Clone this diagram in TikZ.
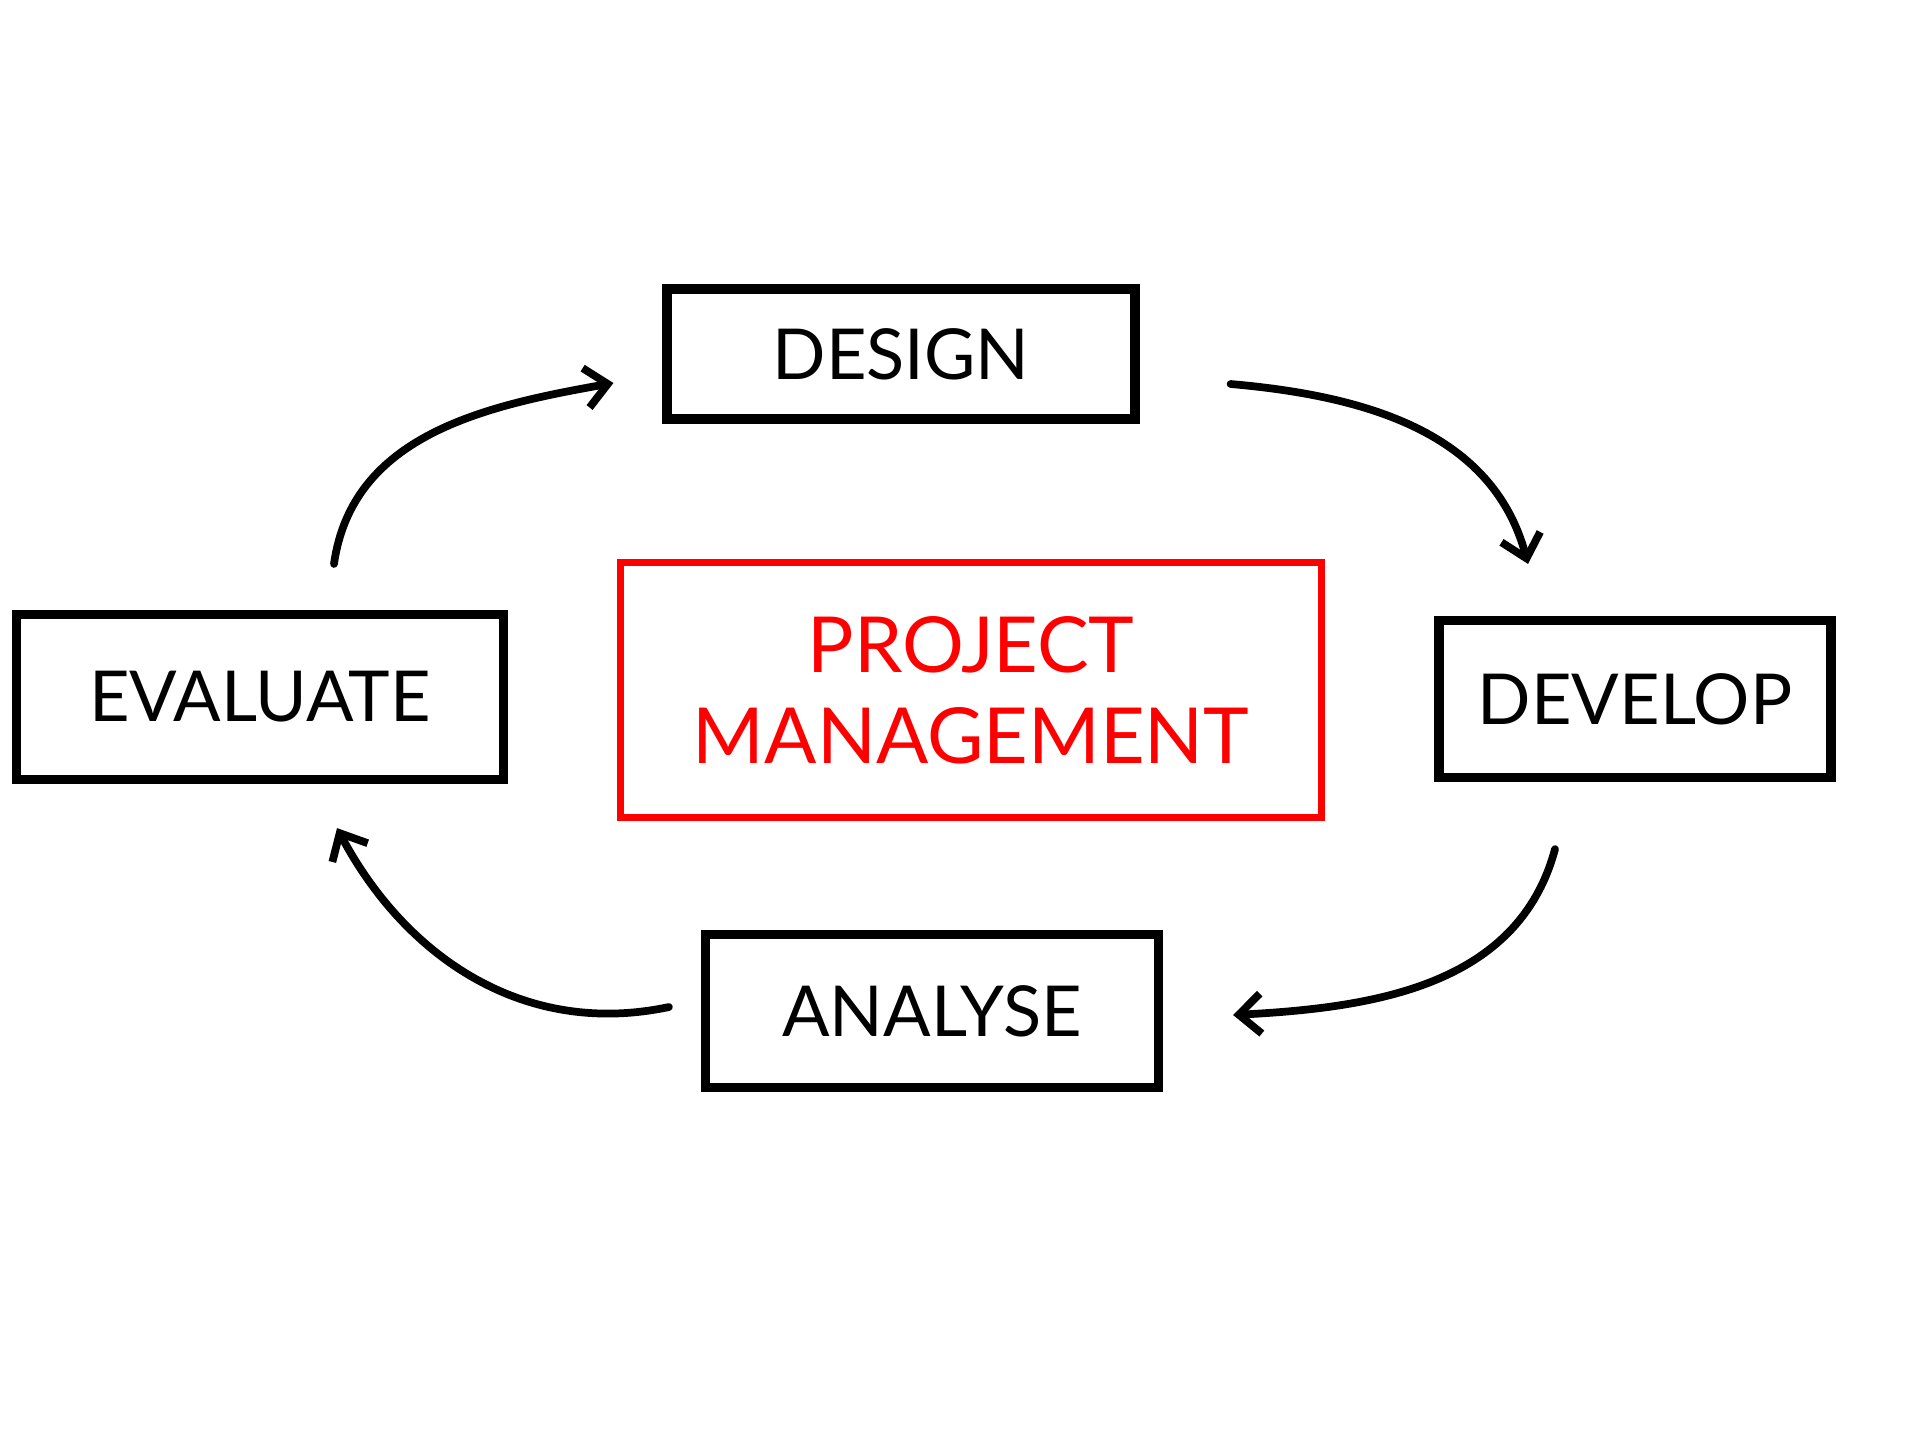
\documentclass[tikz,border=0pt]{standalone}
\usepackage{fontspec}
\setmainfont{Lato}
\usetikzlibrary{arrows.meta}
\begin{document}
\begin{tikzpicture}[>={Straight Barb[length=2.2mm,width=4mm]},
  box/.style={draw, line width=2.6pt, inner sep=0pt, font=\fontsize{20}{24}\selectfont},
  flow/.style={->, line width=2.2pt, line cap=round, line join=round}]
  \useasboundingbox (0, 0) rectangle (19.2, -14.4);
  \node[box, minimum width=4.68cm, minimum height=1.30cm] (design) at (9.01, -3.54) {DESIGN};
  \node[box, minimum width=4.87cm, minimum height=1.65cm] (evaluate) at (2.60, -6.97) {EVALUATE};
  \node[box, minimum width=3.92cm, minimum height=1.57cm] (develop) at (16.35, -6.99) {DEVELOP};
  \node[box, minimum width=4.53cm, minimum height=1.53cm] (analyse) at (9.32, -10.11) {ANALYSE};
  \node[box, draw=red, text=red, line width=2.2pt, minimum width=7.01cm, minimum height=2.55cm, align=center, font=\fontsize{22}{26}\selectfont] (pm) at (9.71, -6.90) {PROJECT\\MANAGEMENT};
  \draw[flow] ([shift={(0.74, 0.46)}]evaluate.north) to[out=82, in=190] ([shift={(-0.49, -0.29)}]design.west);
  \draw[flow] ([shift={(0.91, -0.30)}]design.east) to[out=-5, in=105] ([shift={(-1.07, 0.52)}]develop.north);
  \draw[flow] ([shift={(-0.80, -0.67)}]develop.south) to[out=-105, in=3] ([shift={(0.70, -0.04)}]analyse.east);
  \draw[flow] ([shift={(-0.32, 0.04)}]analyse.west) to[out=192, in=-62] ([shift={(0.77, -0.44)}]evaluate.south);
\end{tikzpicture}
\end{document}
